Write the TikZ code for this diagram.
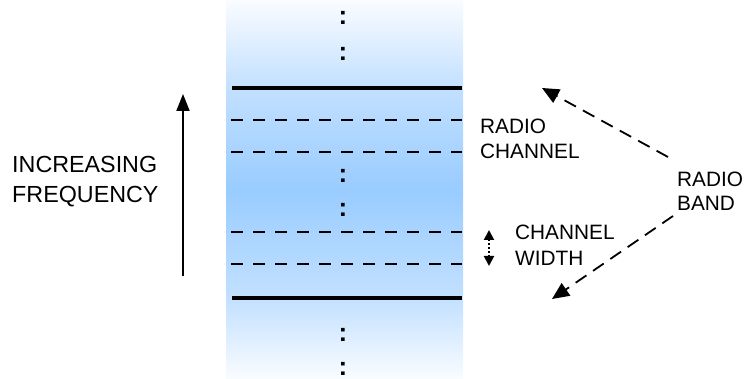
\documentclass[tikz,border=0pt]{standalone}
\usepackage{fontspec}
\setmainfont{Liberation Sans}
\usetikzlibrary{arrows.meta}
\definecolor{bandblue}{HTML}{99CCFF}
\definecolor{bandlight}{HTML}{C2E0FF}
\definecolor{bandedge}{HTML}{FAFCFF}
\pgfdeclareverticalshading{bandshade}{100bp}{
  color(0bp)=(bandedge); color(25bp)=(bandedge); color(35.7bp)=(bandlight);
  color(50bp)=(bandblue); color(63.4bp)=(bandlight); color(75bp)=(bandedge);
  color(100bp)=(bandedge)}
\tikzset{
  x=1pt, y=-1pt,
  bandline/.style={line width=3.5pt},
  chanline/.style={line width=2pt, dash pattern=on 12pt off 10pt},
  vdots/.style={font=\fontsize{26}{26}\selectfont\bfseries, inner sep=0pt, anchor=base},
  biglabel/.style={font=\fontsize{23.3}{30}\selectfont, align=left, inner sep=0pt, anchor=base west},
  label/.style={font=\fontsize{20.8}{25}\selectfont, align=left, inner sep=0pt, anchor=base west},
  pointer/.style={line width=1.8pt, dash pattern=on 13pt off 8pt, -{Triangle[width=15pt,length=17pt]}},
}
\begin{document}
\begin{tikzpicture}
\useasboundingbox (0,0) rectangle (752,379);
\shade[shading=bandshade] (226,0) rectangle (463,379);
% band edges
\coordinate (b1l) at (232,88); \coordinate (b1r) at (462,88);
\coordinate (b2l) at (232,298); \coordinate (b2r) at (462,298);
\draw[bandline] (b1l) -- (b1r);
\draw[bandline] (b2l) -- (b2r);
% channel lines
\foreach \y/\n in {120/c1,152/c2,232/c3,264/c4}{
  \coordinate (\n l) at (231,\y); \coordinate (\n r) at (462,\y);
  \draw[chanline] (\n l) -- (\n r);
}
% dots
\node[vdots] (d1) at (343,25) {:};
\node[vdots] (d2) at (343,61) {:};
\node[vdots] (d3) at (343,183) {:};
\node[vdots] (d4) at (343,217) {:};
\node[vdots] (d5) at (343,341) {:};
\node[vdots] (d6) at (343,375) {:};
% frequency arrow
\coordinate (fbot) at (183,276);
\coordinate (ftop) at (183,94);
\draw[line width=2pt, -{Triangle[width=13pt,length=17pt]}] (fbot) -- (ftop);
\node[biglabel] (freq) at (12,203) {INCREASING\\FREQUENCY};
% labels
\node[label] (chan) at (480,159) {RADIO\\CHANNEL};
\node[label, font=\fontsize{20.8}{26.5}\selectfont] (width) at (515,266) {CHANNEL\\WIDTH};
\node[label, font=\fontsize{20.8}{24}\selectfont] (band) at (677,211) {RADIO\\BAND};
% channel width arrow
\coordinate (wtop) at (489,230);
\coordinate (wbot) at (489,266);
\draw[line width=2pt, dotted, {Triangle[width=10pt,length=10pt]}-{Triangle[width=10pt,length=10pt]}] (wtop) -- (wbot);
% band pointers
\coordinate (p1s) at (668,157);
\coordinate (p1e) at (542,88);
\coordinate (p2s) at (673,216);
\coordinate (p2e) at (552,299);
\draw[pointer] (p1s) -- (p1e);
\draw[pointer] (p2s) -- (p2e);
\end{tikzpicture}
\end{document}
